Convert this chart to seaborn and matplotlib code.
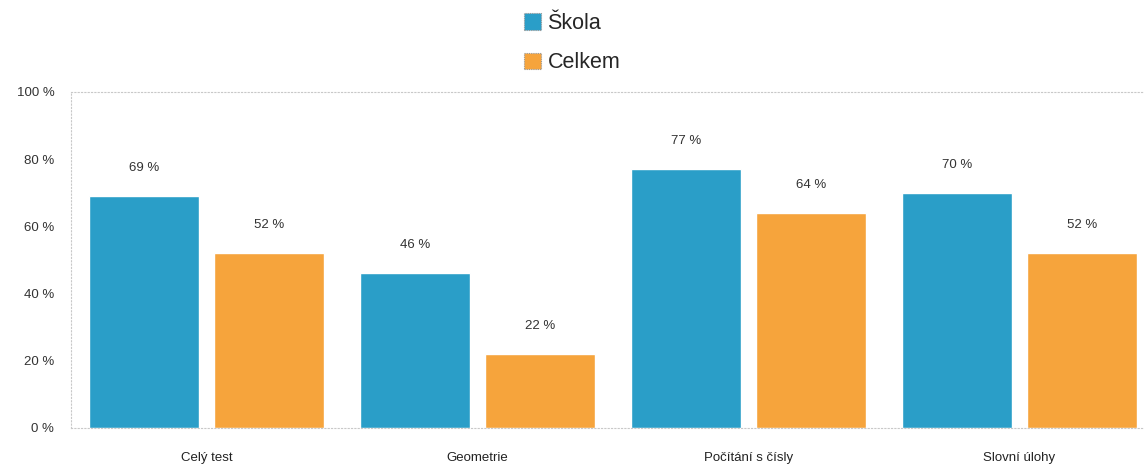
import matplotlib
matplotlib.use("Agg")
import matplotlib.pyplot as plt
import seaborn as sns
import pandas as pd
from matplotlib.patches import Patch

categories = ["Celý test", "Geometrie", "Počítání s čísly", "Slovní úlohy"]
skola = [69, 46, 77, 70]
celkem = [52, 22, 64, 52]
series_names = ["Škola", "Celkem"]
y_ticks = [0, 20, 40, 60, 80, 100]
colors = ["#2a9ec8", "#f6a43c"]

df = pd.DataFrame({
    "cat": categories * 2,
    "val": skola + celkem,
    "series": [series_names[0]] * 4 + [series_names[1]] * 4,
})

sns.set_theme(style="white")
plt.rcParams['font.family'] = ['Liberation Sans', 'DejaVu Sans']

fig = plt.figure(figsize=(11.44, 4.68), dpi=100)
ax = fig.add_axes([71 / 1144, 40 / 468, 1073 / 1144, 336 / 468])

sns.barplot(data=df, x="cat", y="val", hue="series", palette=colors,
            width=0.922, gap=0.12, saturation=1, ax=ax, legend=False)

ax.set_xlim(-0.5, 3.46)
ax.set_ylim(0, 100)
ax.set_yticks(y_ticks)
ax.set_yticklabels([f"{t} %" for t in y_ticks], fontsize=9.5, color="#333333")
ax.tick_params(axis="y", length=0, pad=12)
ax.tick_params(axis="x", length=0, pad=17, labelsize=9.5, labelcolor="#222222")
ax.set_xlabel("")
ax.set_ylabel("")

for c in ax.containers:
    ax.bar_label(c, labels=[f"{int(v)} %" for v in c.datavalues],
                 padding=16, fontsize=9.5, color="#333333")

for side in ["top", "left", "bottom"]:
    ax.spines[side].set_visible(True)
    ax.spines[side].set_linestyle((0, (1, 2)))
    ax.spines[side].set_color("#c8c8c8")
    ax.spines[side].set_linewidth(0.8)
ax.spines["right"].set_visible(False)

handles = [Patch(facecolor=colors[i], edgecolor="#999999", linestyle=(0, (1, 1)),
                 linewidth=0.8, label=series_names[i]) for i in range(2)]
fig.legend(handles=handles, loc="upper center", bbox_to_anchor=(0.5, 1.0),
           frameon=False, fontsize=15.5, labelspacing=0.85, handlelength=0.8,
           handleheight=0.8, handletextpad=0.3, borderaxespad=0.2)

fig.savefig("out.png", dpi=100)
